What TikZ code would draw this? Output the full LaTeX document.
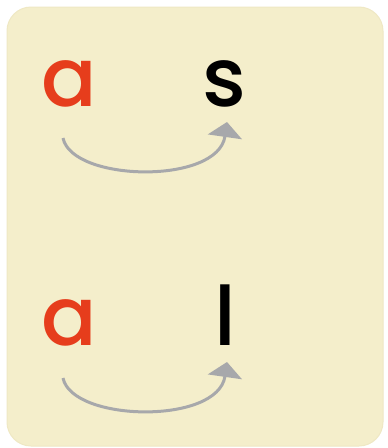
\documentclass[tikz,border=0pt]{standalone}
\usepackage{fontspec}
\setmainfont{Poppins}[UprightFont=* Medium]
\usetikzlibrary{arrows.meta}
\definecolor{cardfill}{HTML}{F4EECB}
\definecolor{cardline}{HTML}{EFE8C4}
\definecolor{redletter}{HTML}{E63D1C}
\definecolor{arrowgray}{HTML}{A7A8AB}
\tikzset{
  letter/.style={inner sep=0pt, anchor=base, font=\fontsize{82}{82}\selectfont},
  redl/.style={letter, text=redletter},
  blackl/.style={letter, text=black},
  arr/.style={draw=arrowgray, line width=3pt, -{Triangle[length=15pt,width=34pt]}}
}
\begin{document}
\begin{tikzpicture}[x=1pt,y=-1pt]
\useasboundingbox (0,0) rectangle (388,448);
\fill[white] (0,0) rectangle (388,448);
\filldraw[fill=cardfill, draw=cardline, line width=1pt, rounded corners=24pt] (7,7) rectangle (383,446);
\node[redl] (a1) at (69,106) {a};
\node[blackl] (s1) at (224,106) {s};
\node[redl] (a2) at (69,345) {a};
\node[blackl] (l2) at (225,345) {l};
\coordinate (st1) at (63,138);
\coordinate (en1) at (227,122);
\coordinate (st2) at (63,378);
\coordinate (en2) at (227,362);
\draw[arr] (st1) .. controls (72,182) and (218,185) .. (en1);
\draw[arr] (st2) .. controls (72,422) and (218,425) .. (en2);
\end{tikzpicture}
\end{document}
